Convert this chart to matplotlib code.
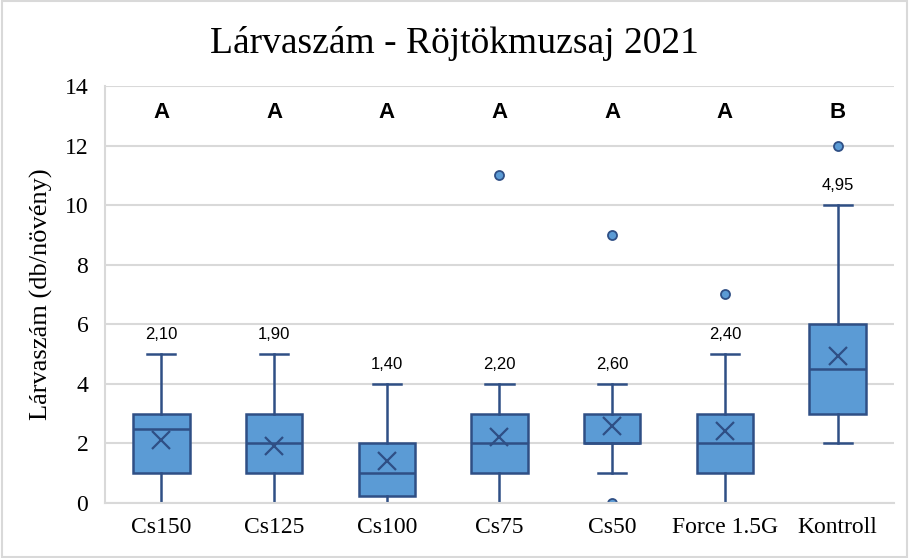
import matplotlib
matplotlib.use("Agg")
import matplotlib.pyplot as plt
from matplotlib.patches import Rectangle

# Data
categories = ["Cs150", "Cs125", "Cs100", "Cs75", "Cs50", "Force 1.5G", "Kontroll"]
whis_low = [0, 0, 0, 0, 1, 0, 2]
q1 = [1, 1, 0.25, 1, 2, 1, 3]
median = [2.5, 2, 1, 2, 2, 2, 4.5]
q3 = [3, 3, 2, 3, 3, 3, 6]
whis_high = [5, 5, 4, 4, 4, 5, 10]
means = [2.10, 1.90, 1.40, 2.20, 2.60, 2.40, 4.95]
outliers = [[], [], [], [11], [0, 9], [7], [12]]
letters = ["A", "A", "A", "A", "A", "A", "B"]

fill = "#5B9BD5"
edge = "#2F4F85"
grid = "#D9D9D9"

stats = []
for i in range(len(categories)):
    stats.append(dict(label=categories[i], whislo=whis_low[i], q1=q1[i], med=median[i],
                      q3=q3[i], whishi=whis_high[i], mean=means[i], fliers=outliers[i]))

fig = plt.figure(figsize=(9.09, 5.58), dpi=100)
ax = fig.add_axes([0.1155, 0.0986, 0.868, 0.7473])

positions = list(range(1, len(categories) + 1))
ax.bxp(stats, positions=positions, widths=0.5, patch_artist=True, showmeans=True,
       boxprops=dict(facecolor=fill, edgecolor=edge, linewidth=1.8),
       medianprops=dict(color=edge, linewidth=1.8),
       whiskerprops=dict(color=edge, linewidth=1.8),
       capprops=dict(color=edge, linewidth=1.8),
       capwidths=0.25,
       meanprops=dict(marker="x", markeredgecolor=edge, markersize=13, markeredgewidth=1.6),
       flierprops=dict(marker="o", markerfacecolor=fill, markeredgecolor=edge,
                       markersize=6.5, markeredgewidth=1.3))

# mean labels above the upper whisker, significance letters on top
for i, p in enumerate(positions):
    ax.text(p, whis_high[i] + 0.65, f"{means[i]:.2f}".replace(".", ","), ha="center",
            va="center", fontsize=12, family="Liberation Sans", color="#000000")
    ax.text(p, 13.12, letters[i], ha="center", va="center", fontsize=16,
            fontweight="bold", family="Liberation Sans")

ax.set_xlim(0.5, len(categories) + 0.5)
ax.set_ylim(0, 14)
ax.set_yticks(range(0, 15, 2))
ax.yaxis.grid(True, color=grid, linewidth=1.5)
ax.set_axisbelow(True)
for s in ["top", "right"]:
    ax.spines[s].set_visible(False)
ax.spines["left"].set_color(grid)
ax.spines["bottom"].set_color(grid)
ax.spines["left"].set_linewidth(1.5)
ax.spines["bottom"].set_linewidth(1.5)
ax.set_xticks(positions)
ax.set_xticklabels(categories)
ax.tick_params(length=0, labelsize=17)
ax.tick_params(axis="x", pad=10)
ax.tick_params(axis="y", pad=12)
for lab in ax.get_xticklabels() + ax.get_yticklabels():
    lab.set_family("Liberation Serif")
ax.set_ylabel("Lárvaszám (db/növény)", family="Liberation Serif", fontsize=19, labelpad=8)

fig.text(0.5, 0.922, "Lárvaszám - Röjtökmuzsaj 2021", ha="center", va="center",
         family="Liberation Serif", fontsize=27)

fig.patches.append(Rectangle((0.002, 0.002), 0.996, 0.996, transform=fig.transFigure,
                             fill=False, edgecolor=grid, linewidth=1.5))

fig.savefig("out.png", dpi=100)
